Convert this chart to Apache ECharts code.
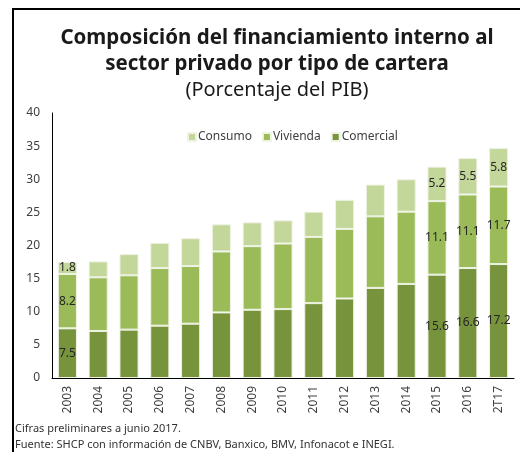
<!DOCTYPE html>
<html>
<head>
<meta charset="utf-8">
<script src="https://cdn.jsdelivr.net/npm/echarts@6/dist/echarts.min.js"></script>
<style>
    html, body { margin: 0; padding: 0; background: #fff; }
    #chart { width: 520px; height: 457px; }
</style>
</head>
<body>
<div id="chart"></div>
<script>
(function(){

    // years on the x axis
    let categories = ['2003', '2004', '2005', '2006', '2007', '2008', '2009', '2010',
        '2011', '2012', '2013', '2014', '2015', '2016', '2T17'];

    // % of GDP
    let comercial = [7.5, 7.1, 7.3, 7.9, 8.2, 9.9, 10.3, 10.4, 11.3, 12.0, 13.6, 14.2, 15.6, 16.6, 17.2];
    let vivienda  = [8.2, 8.1, 8.2, 8.7, 8.7, 9.2, 9.6, 9.9, 10.0, 10.5, 10.8, 10.9, 11.1, 11.1, 11.7];
    let consumo   = [1.8, 2.4, 3.2, 3.8, 4.2, 4.1, 3.6, 3.5, 3.8, 4.4, 4.8, 4.9, 5.2, 5.5, 5.8];

    // only these bars carry labels
    let labelled = ['2003', '2015', '2016', '2T17'];

    let yTicks = { min: 0, max: 40, interval: 5 };

    let _font = '"Noto Sans", "Open Sans", sans-serif';

    let _makeSeries = function(name, data, color){
        return {
            name: name,
            type: 'bar',
            stack: 'total',
            barWidth: '62%',
            data: data,
            itemStyle: {
                color: color,
                borderColor: '#eef3e4',
                borderWidth: 1
            },
            label: {
                show: true,
                position: 'inside',
                color: '#262626',
                fontSize: 12,
                fontFamily: _font,
                formatter: function(p){
                    return labelled.indexOf(p.name) >= 0 ? p.value.toFixed(1) : '';
                }
            }
        };
    };

    let chart = echarts.init(document.getElementById('chart'));

    chart.setOption({
        animation: false,
        textStyle: { fontFamily: _font },
        title: {
            text: 'Composición del financiamiento interno al\nsector privado por tipo de cartera',
            subtext: '(Porcentaje del PIB)',
            left: 272,
            textAlign: 'center',
            top: 20,
            itemGap: 1,
            textStyle: {
                fontSize: 20.5,
                fontWeight: 'bold',
                color: '#1a1a1a',
                lineHeight: 26,
                fontFamily: _font
            },
            subtextStyle: {
                fontSize: 20,
                color: '#1a1a1a',
                lineHeight: 24,
                fontFamily: _font
            }
        },
        legend: {
            data: ['Consumo', 'Vivienda', 'Comercial'],
            top: 126,
            left: 182,
            itemWidth: 8,
            itemHeight: 8,
            itemGap: 10,
            icon: 'rect',
            textStyle: { fontSize: 12, color: '#404040', padding: [0, 0, 0, -3] }
        },
        grid: {
            left: 52,
            right: 6,
            top: 113,
            bottom: 79
        },
        xAxis: {
            type: 'category',
            data: categories,
            axisLine: { lineStyle: { color: '#000', width: 1 } },
            axisTick: { show: false },
            axisLabel: {
                rotate: 90,
                color: '#404040',
                fontSize: 12,
                margin: 8,
                interval: 0
            }
        },
        yAxis: {
            type: 'value',
            min: yTicks.min,
            max: yTicks.max,
            interval: yTicks.interval,
            splitLine: { show: false },
            axisLine: { show: true, lineStyle: { color: '#000', width: 1 } },
            axisTick: { show: false },
            axisLabel: { color: '#404040', fontSize: 12, margin: 12 }
        },
        series: [
            _makeSeries('Comercial', comercial, '#77933c'),
            _makeSeries('Vivienda', vivienda, '#9bbb59'),
            _makeSeries('Consumo', consumo, '#c4d79b')
        ],
        graphic: [
            {
                type: 'polyline',
                shape: { points: [[13, 452], [13, 9], [520, 9]] },
                style: { stroke: '#000', lineWidth: 2, fill: null }
            },
            {
                type: 'text',
                left: 15,
                top: 423,
                style: { text: 'Cifras preliminares a junio 2017.', fontSize: 11, fill: '#333', fontFamily: _font }
            },
            {
                type: 'text',
                left: 15,
                top: 439,
                style: { text: 'Fuente: SHCP con información de CNBV, Banxico, BMV, Infonacot e INEGI.', fontSize: 11, fill: '#333', fontFamily: _font }
            }
        ]
    });

})();
</script>
</body>
</html>
